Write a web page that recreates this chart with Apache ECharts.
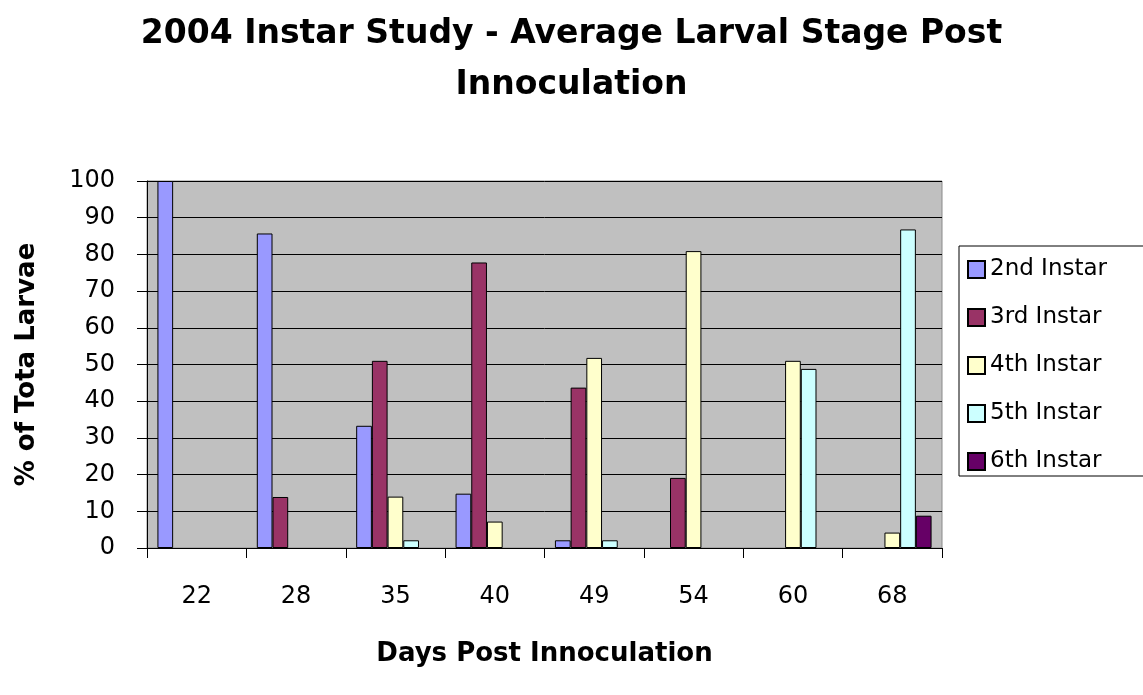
<!DOCTYPE html>
<html>
<head>
<meta charset="utf-8">
<script src="https://cdn.jsdelivr.net/npm/echarts@6/dist/echarts.min.js"></script>
<style>
  html, body { margin: 0; padding: 0; background: #fff; }
  #chart { width: 1143px; height: 695px; }
</style>
</head>
<body>
<div id="chart"></div>
<script>
// days post innoculation
var days = ['22', '28', '35', '40', '49', '54', '60', '68'];

// % of total larvae per instar (null = no bar)
var instar2 = [100, 85.7, 33.3, 14.8, 2.1, null, null, null];
var instar3 = [null, 13.9, 51, 77.8, 43.7, 19.1, null, null];
var instar4 = [null, null, 14, 7.2, 51.8, 80.9, 51, 4.2];
var instar5 = [null, null, 2.1, null, 2.1, null, 48.8, 86.8];
var instar6 = [null, null, null, null, null, null, null, 8.8];

var yTicks = [0, 10, 20, 30, 40, 50, 60, 70, 80, 90, 100];

var font = 'DejaVu Sans';

function bar(name, data, color) {
  return {
    name: name,
    type: 'bar',
    data: data,
    barGap: '0%',
    barCategoryGap: '21%',
    itemStyle: { color: color, borderColor: '#000', borderWidth: 1 }
  };
}

var chart = echarts.init(document.getElementById('chart'));
chart.setOption({
  animation: false,
  backgroundColor: '#fff',
  title: {
    text: '2004 Instar Study - Average Larval Stage Post\nInnoculation',
    left: 'center',
    top: 4,
    textStyle: { fontFamily: font, fontSize: 33, fontWeight: 'bold', color: '#000', lineHeight: 51 }
  },
  legend: {
    orient: 'vertical',
    left: 959,
    top: 246,
    padding: [12, 40, 3, 8],
    itemWidth: 17,
    itemHeight: 17,
    itemGap: 25,
    itemTextGap: 15,
    icon: 'rect',
    borderColor: '#000',
    borderWidth: 1,
    textStyle: { fontFamily: font, fontSize: 23, color: '#000', lineHeight: 22 }
  },
  grid: {
    left: 147, right: 201, top: 181, bottom: 147,
    outerBoundsMode: 'none',
    show: true,
    backgroundColor: '#c0c0c0',
    borderColor: '#8a8a8a',
    borderWidth: 1
  },
  xAxis: {
    type: 'category',
    data: days,
    name: 'Days Post Innoculation',
    nameLocation: 'middle',
    nameGap: 93,
    nameTextStyle: { fontFamily: font, fontSize: 26, fontWeight: 'bold', color: '#000' },
    axisLine: { lineStyle: { color: '#000', width: 1 } },
    axisTick: { show: true, length: 10, lineStyle: { color: '#000' } },
    axisLabel: { fontFamily: font, fontSize: 24, color: '#000', margin: 37 }
  },
  yAxis: {
    type: 'value',
    min: yTicks[0],
    max: yTicks[yTicks.length - 1],
    interval: 10,
    name: '% of Tota Larvae',
    nameLocation: 'middle',
    nameGap: 107,
    nameTextStyle: { fontFamily: font, fontSize: 26, fontWeight: 'bold', color: '#000' },
    axisLine: { show: true, lineStyle: { color: '#000', width: 1 } },
    axisTick: { show: true, length: 10, lineStyle: { color: '#000' } },
    axisLabel: { fontFamily: font, fontSize: 24, color: '#000', margin: 32 },
    splitLine: { show: true, lineStyle: { color: '#000', width: 1 } }
  },
  series: [
    bar('2nd Instar', instar2, '#9999ff'),
    bar('3rd Instar', instar3, '#993366'),
    bar('4th Instar', instar4, '#ffffcc'),
    bar('5th Instar', instar5, '#ccffff'),
    bar('6th Instar', instar6, '#660066')
  ]
});
</script>
</body>
</html>
